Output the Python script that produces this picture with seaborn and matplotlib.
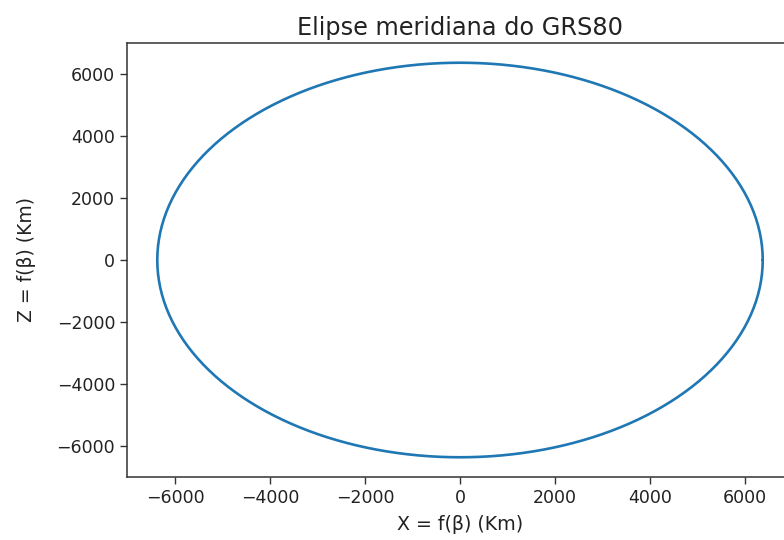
import numpy as np
import pandas as pd
import matplotlib
matplotlib.use("Agg")
import matplotlib.pyplot as plt
import seaborn as sns

# GRS80 ellipsoid parameters (km)
semi_major_a = 6378.137
semi_minor_b = 6356.752314
beta_deg = np.arange(0, 361, 1)

title = "Elipse meridiana do GRS80"
xlabel = "X = f(\u03b2) (Km)"
ylabel = "Z = f(\u03b2) (Km)"
xticks = [-6000, -4000, -2000, 0, 2000, 4000, 6000]
yticks = [-6000, -4000, -2000, 0, 2000, 4000, 6000]

beta = np.radians(beta_deg)
df = pd.DataFrame({"X": semi_major_a * np.cos(beta),
                   "Z": semi_minor_b * np.sin(beta),
                   "order": beta_deg})

sns.set_theme(style="ticks", rc={"axes.edgecolor": "black",
                                 "xtick.color": "black", "ytick.color": "black",
                                 "text.color": "#222222", "axes.labelcolor": "#222222"})
plt.rcParams['font.family'] = ['DejaVu Sans']

fig = plt.figure(figsize=(7.84, 5.40), dpi=100)
ax = fig.add_axes([127/784, (540-477)/540, 666/784, 434/540])
sns.lineplot(data=df, x="X", y="Z", sort=False, estimator=None,
             color="#1f77b4", linewidth=1.9, ax=ax)
ax.margins(0.05)
ax.set_xticks(xticks)
ax.set_yticks(yticks)
ax.set_xticklabels([f"{t:d}".replace("-", "\u2212") for t in xticks])
ax.set_yticklabels([f"{t:d}".replace("-", "\u2212") for t in yticks])
ax.tick_params(labelsize=12.5, length=5, width=1.0, color="#333333", labelcolor="#222222")
ax.set_xlabel(xlabel, fontsize=13.7, labelpad=6)
ax.set_ylabel(ylabel, fontsize=13.5, labelpad=15)
ax.set_title(title, fontsize=17.3, pad=6)
for s in ax.spines.values():
    s.set_linewidth(1.1)
    s.set_color("#333333")
fig.savefig("out.png", dpi=100)
